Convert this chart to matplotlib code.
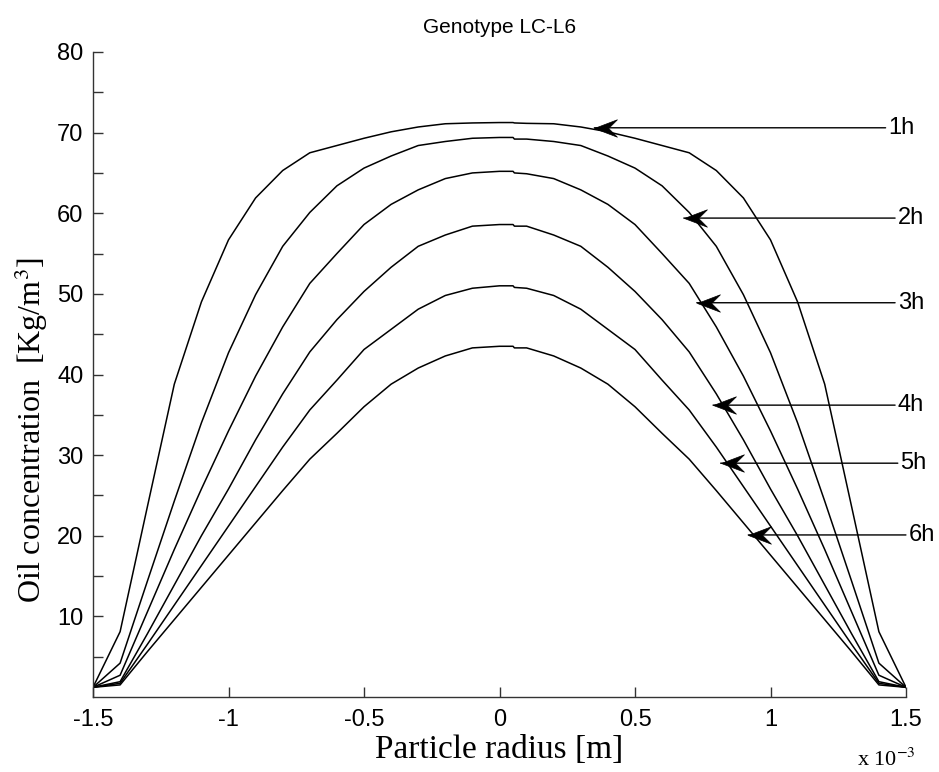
import matplotlib
matplotlib.use("Agg")
import matplotlib.pyplot as plt
from matplotlib.ticker import FixedLocator, FixedFormatter
from matplotlib.path import Path

plt.rcParams['font.family'] = ['Liberation Sans', 'DejaVu Sans']
plt.rcParams['axes.unicode_minus'] = False
plt.rcParams['mathtext.fontset'] = 'stix'

# ---- data ----
radius = [-1.5, -1.4, -1.3, -1.2, -1.1, -1.0, -0.9, -0.8, -0.7, -0.6, -0.5, -0.4, -0.3, -0.2, -0.1,
          0.0, 0.05, 0.055,
          0.1, 0.2, 0.3, 0.4, 0.5, 0.6, 0.7, 0.8, 0.9, 1.0, 1.1, 1.2, 1.3, 1.4, 1.5]

conc_1h = [1.2, 8.1, 23.5, 38.8, 49.0, 56.7, 61.9, 65.3, 67.5, 68.4, 69.3, 70.1, 70.7, 71.1, 71.2,
           71.25, 71.25, 71.2,
           71.15, 71.1, 70.7, 70.1, 69.3, 68.4, 67.5, 65.3, 61.9, 56.7, 49.0, 38.8, 23.5, 8.1, 1.2]
conc_2h = [1.2, 4.2, 14.3, 24.3, 34.0, 42.7, 49.9, 55.9, 60.1, 63.4, 65.6, 67.1, 68.4, 68.9, 69.3,
           69.4, 69.4, 69.2,
           69.2, 68.9, 68.4, 67.1, 65.6, 63.4, 60.1, 55.9, 49.9, 42.7, 34.0, 24.3, 14.3, 4.2, 1.2]
conc_3h = [1.2, 2.7, 10.5, 18.3, 25.8, 33.0, 39.8, 45.9, 51.3, 55.0, 58.6, 61.1, 62.9, 64.3, 65.0,
           65.2, 65.2, 65.0,
           64.9, 64.3, 62.9, 61.1, 58.6, 55.0, 51.3, 45.9, 39.8, 33.0, 25.8, 18.3, 10.5, 2.7, 1.2]
conc_4h = [1.2, 1.9, 7.8, 13.9, 20.0, 25.8, 31.9, 37.6, 42.8, 46.8, 50.3, 53.3, 55.9, 57.3, 58.4,
           58.6, 58.6, 58.4,
           58.4, 57.3, 55.9, 53.3, 50.3, 46.8, 42.8, 37.6, 31.9, 25.8, 20.0, 13.9, 7.8, 1.9, 1.2]
conc_5h = [1.2, 1.7, 6.5, 11.4, 16.3, 21.2, 26.1, 31.0, 35.6, 39.3, 43.1, 45.6, 48.1, 49.8, 50.7,
           51.0, 51.0, 50.8,
           50.7, 49.8, 48.1, 45.6, 43.1, 39.3, 35.6, 31.0, 26.1, 21.2, 16.3, 11.4, 6.5, 1.7, 1.2]
conc_6h = [1.2, 1.5, 5.6, 9.6, 13.6, 17.6, 21.6, 25.6, 29.5, 32.7, 36.0, 38.8, 40.8, 42.3, 43.3,
           43.5, 43.5, 43.3,
           43.3, 42.3, 40.8, 38.8, 36.0, 32.7, 29.5, 25.6, 21.6, 17.6, 13.6, 9.6, 5.6, 1.5, 1.2]

series = [conc_1h, conc_2h, conc_3h, conc_4h, conc_5h, conc_6h]
labels = ["1h", "2h", "3h", "4h", "5h", "6h"]
# arrow tip (on curve) and label position, in data units
tip_x = [0.35, 0.68, 0.728, 0.788, 0.816, 0.918]
tip_y = [70.6, 59.4, 48.9, 36.2, 29.0, 20.1]
lab_x = [1.435, 1.47, 1.47, 1.47, 1.48, 1.51]

x_ticks = [-1.5, -1.0, -0.5, 0.0, 0.5, 1.0, 1.5]
x_ticklabels = ["-1.5", "-1", "-0.5", "0", "0.5", "1", "1.5"]
y_ticks = [10, 20, 30, 40, 50, 60, 70, 80]
y_minor = [5, 15, 25, 35, 45, 55, 65, 75]

# ---- figure ----
fig = plt.figure(figsize=(9.39, 7.72), dpi=100)
ax = fig.add_axes([93/939, 1-697/772, (906-93)/939, (697-52)/772])

for s in series:
    ax.plot(radius, s, color='black', lw=1.1)

for lab, tx, ty, lx in zip(labels, tip_x, tip_y, lab_x):
    ax.annotate(lab, xy=(tx, ty), xytext=(lx, ty), ha='left', va='center',
                fontsize=17,
                arrowprops=dict(arrowstyle='-', color='black', lw=1.0,
                                shrinkA=0, shrinkB=0),
                annotation_clip=False)

# swept-back (MATLAB-like) arrow heads pointing left, tip at the marker origin
head = Path([(0, 0), (1.0, 0.38), (0.62, 0.0), (1.0, -0.38), (0, 0)],
            [Path.MOVETO, Path.LINETO, Path.LINETO, Path.LINETO, Path.CLOSEPOLY])
ax.plot(tip_x, tip_y, ls='none', marker=head, ms=33, color='black',
        markeredgewidth=0.5)

ax.set_xlim(-1.5, 1.5)
ax.set_ylim(0, 80)
ax.xaxis.set_major_locator(FixedLocator(x_ticks))
ax.xaxis.set_major_formatter(FixedFormatter(x_ticklabels))
ax.yaxis.set_major_locator(FixedLocator(y_ticks))
ax.yaxis.set_minor_locator(FixedLocator(y_minor))

for side in ['top', 'right']:
    ax.spines[side].set_visible(False)
for side in ['left', 'bottom']:
    ax.spines[side].set_color('#333333')
    ax.spines[side].set_linewidth(1.0)

ax.tick_params(axis='both', which='both', direction='in', length=7, width=1.0,
               colors='#333333', labelcolor='black', labelsize=17)
ax.tick_params(axis='x', pad=9)
ax.tick_params(axis='y', pad=7)

ax.set_title("Genotype LC-L6", fontsize=15, pad=14)
ax.set_xlabel("Particle radius [m]", family=['Liberation Serif'], fontsize=24, labelpad=2)
ax.set_ylabel(r"Oil concentration  [Kg/m$^3$]", family=['Liberation Serif'], fontsize=23)
ax.yaxis.set_label_coords(-0.053, 0.414)

fig.text(857/939, 1-766/772, r"x 10$^{-3}$", family=['Liberation Serif'], fontsize=16,
         ha='left', va='baseline')

fig.savefig("out.png", dpi=100)
